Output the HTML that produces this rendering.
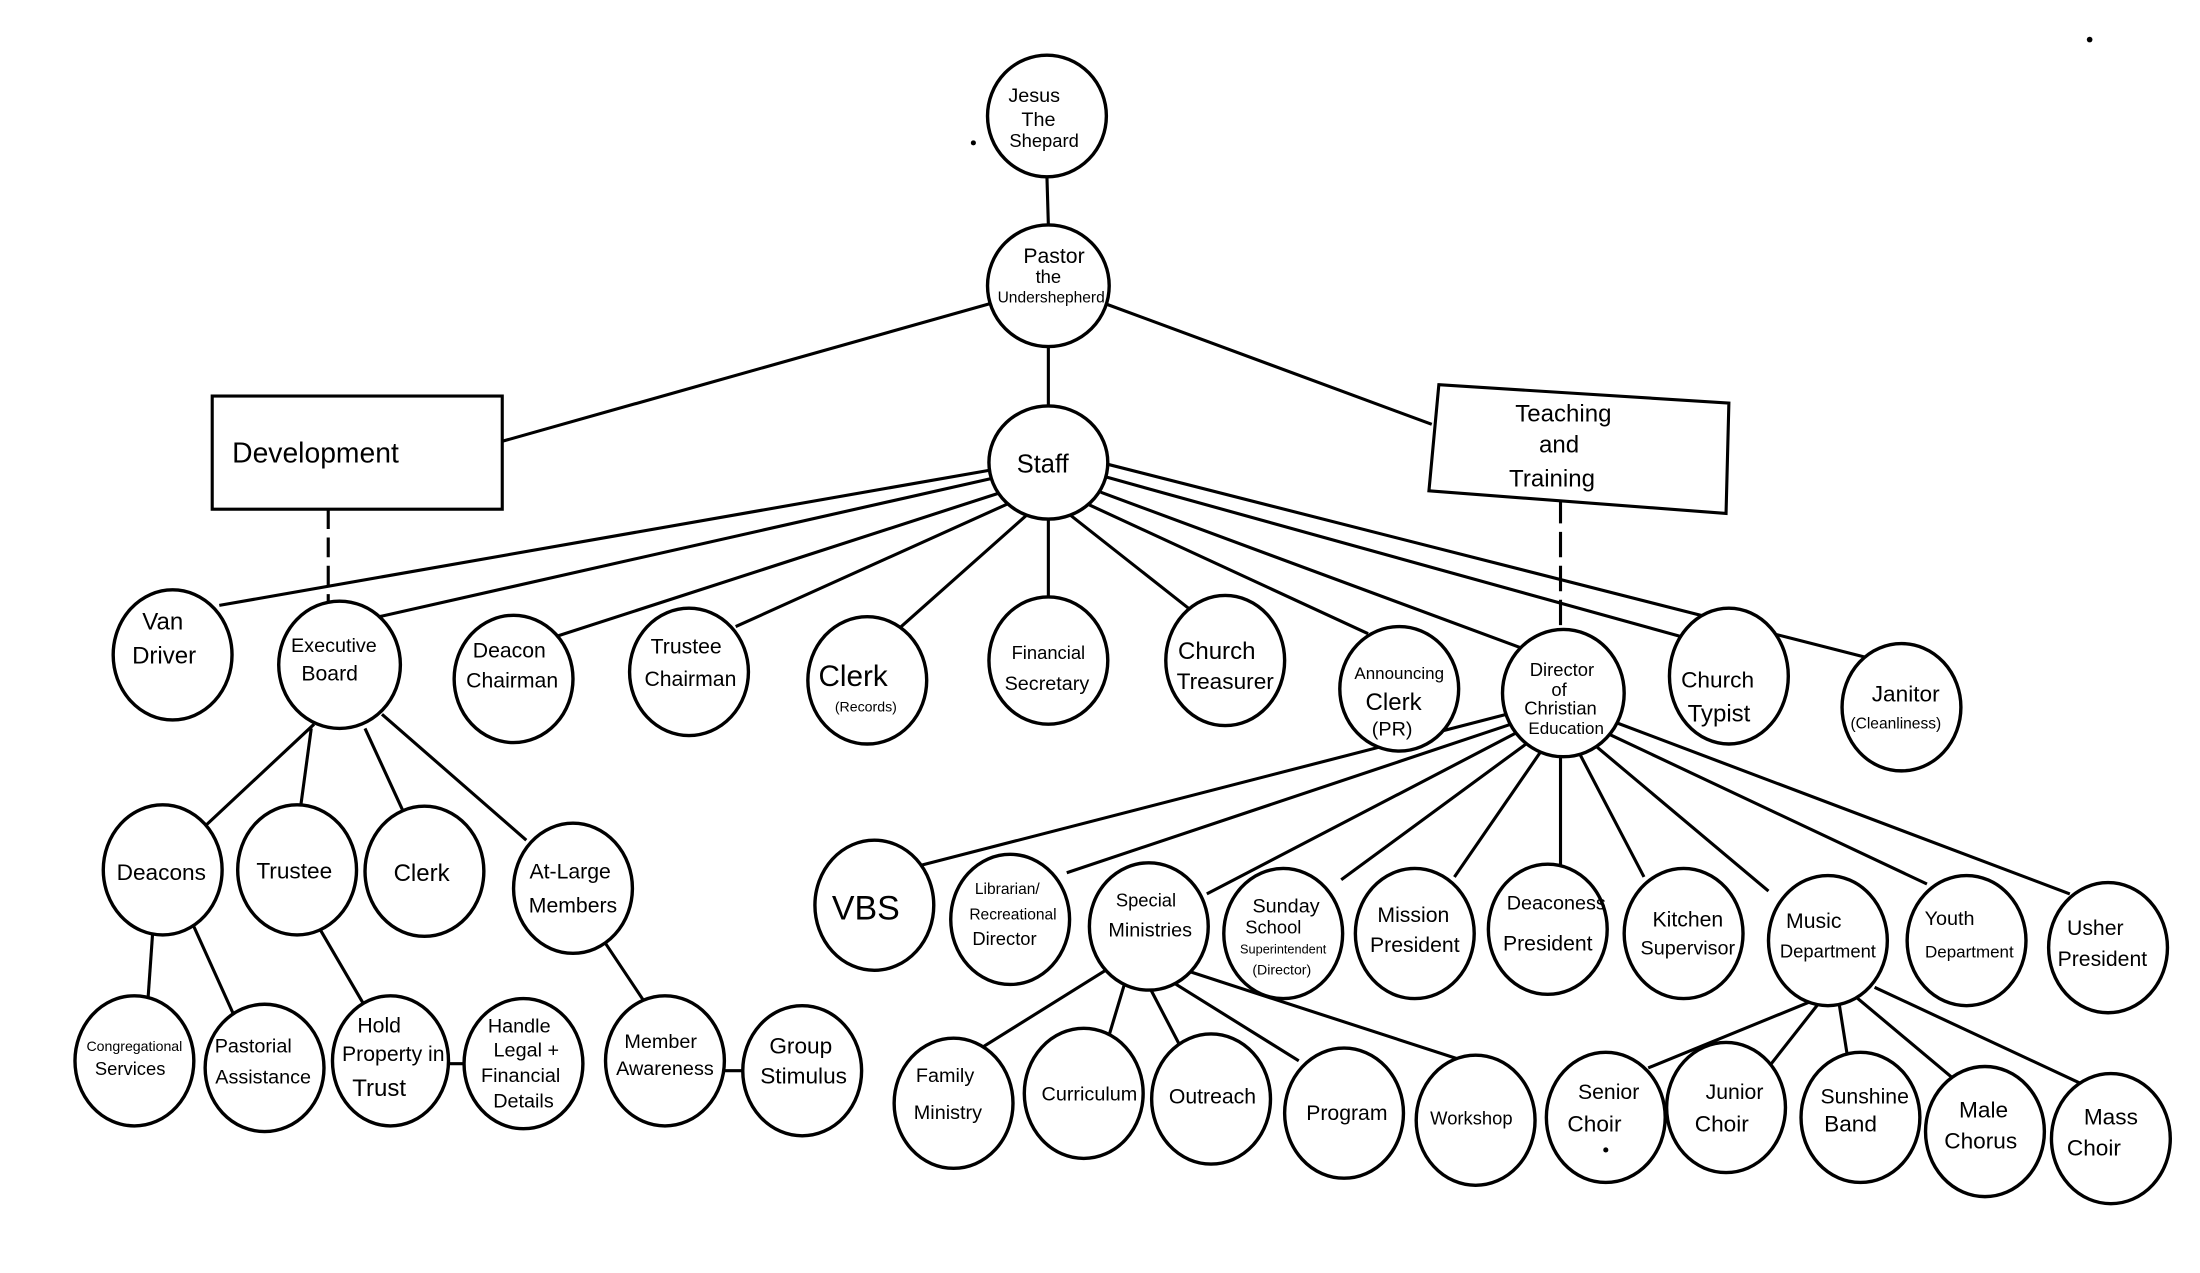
<!DOCTYPE html>
<html><head><meta charset="utf-8"><style>
html,body{margin:0;padding:0;background:#fff;}
svg{display:block;}
text{font-family:"Liberation Sans Narrow","Liberation Sans",sans-serif;font-size:15px;fill:#000;text-anchor:middle;}
</style></head><body>
<svg width="2200" height="1273" viewBox="0 0 1555 900" preserveAspectRatio="none" xmlns="http://www.w3.org/2000/svg">
<g stroke="#000" stroke-width="2.2" fill="none">
<!-- top -->
<line x1="740" y1="125" x2="741" y2="159"/>
<line x1="741" y1="245" x2="741" y2="287"/>
<line x1="355" y1="312" x2="702" y2="214"/>
<line x1="782" y1="215" x2="1012" y2="300"/>
<line x1="232" y1="360" x2="232" y2="425" stroke-dasharray="14,6"/>
<line x1="1103" y1="352" x2="1103" y2="450" stroke-dasharray="18,6"/>
<!-- staff to row1 -->
<line x1="702" y1="332" x2="155" y2="428"/>
<line x1="702" y1="338" x2="268" y2="436"/>
<line x1="708" y1="348" x2="393" y2="450"/>
<line x1="715" y1="355" x2="520" y2="443"/>
<line x1="727" y1="363" x2="637" y2="443"/>
<line x1="741" y1="367" x2="741" y2="422"/>
<line x1="755" y1="363" x2="840" y2="430"/>
<line x1="770" y1="357" x2="967" y2="448"/>
<line x1="778" y1="348" x2="1075" y2="458"/>
<line x1="781" y1="337" x2="1188" y2="450"/>
<line x1="782" y1="328" x2="1320" y2="465"/>
<!-- exec board children -->
<line x1="222" y1="512" x2="145" y2="584"/>
<line x1="220" y1="515" x2="212" y2="574"/>
<line x1="258" y1="515" x2="287" y2="578"/>
<line x1="270" y1="505" x2="372" y2="594"/>
<line x1="108" y1="658" x2="104" y2="715"/>
<line x1="137" y1="655" x2="165" y2="717"/>
<line x1="225" y1="655" x2="260" y2="715"/>
<line x1="428" y1="667" x2="460" y2="715"/>
<line x1="512" y1="757" x2="527" y2="757"/>
<line x1="315" y1="752" x2="328" y2="752"/>
<!-- director children -->
<line x1="1065" y1="505" x2="650" y2="612"/>
<line x1="1068" y1="512" x2="754" y2="617"/>
<line x1="1072" y1="518" x2="853" y2="632"/>
<line x1="1080" y1="525" x2="948" y2="622"/>
<line x1="1090" y1="530" x2="1028" y2="620"/>
<line x1="1103" y1="533" x2="1103" y2="615"/>
<line x1="1115" y1="530" x2="1162" y2="620"/>
<line x1="1125" y1="525" x2="1250" y2="630"/>
<line x1="1135" y1="518" x2="1362" y2="625"/>
<line x1="1140" y1="510" x2="1463" y2="632"/>
<!-- special ministries children -->
<line x1="783" y1="685" x2="695" y2="740"/>
<line x1="795" y1="695" x2="783" y2="735"/>
<line x1="812" y1="697" x2="837" y2="745"/>
<line x1="825" y1="692" x2="918" y2="750"/>
<line x1="835" y1="685" x2="1050" y2="755"/>
<!-- music children -->
<line x1="1280" y1="708" x2="1165" y2="755"/>
<line x1="1285" y1="710" x2="1252" y2="752"/>
<line x1="1300" y1="710" x2="1306" y2="748"/>
<line x1="1312" y1="705" x2="1380" y2="762"/>
<line x1="1325" y1="698" x2="1475" y2="768"/>
</g>
<!-- boxes -->
<g stroke="#000" stroke-width="2.2" fill="#fff">
<rect x="150" y="280" width="205" height="80"/>
<polygon points="1017,272 1222,285 1220,363 1010,347"/>
</g>
<text x="223" y="327" style="font-size:20px">Development</text>
<text x="1105" y="298" style="font-size:17px">Teaching</text>
<text x="1102" y="320" style="font-size:17px">and</text>
<text x="1097" y="344" style="font-size:17px">Training</text>
<!-- nodes -->
<g stroke="#000" stroke-width="2.4" fill="#fff">
<ellipse cx="740" cy="82" rx="42" ry="43"/>
<ellipse cx="741" cy="202" rx="43" ry="43"/>
<ellipse cx="741" cy="327" rx="42" ry="40"/>
<ellipse cx="122" cy="463" rx="42" ry="46"/>
<ellipse cx="240" cy="470" rx="43" ry="45"/>
<ellipse cx="363" cy="480" rx="42" ry="45"/>
<ellipse cx="487" cy="475" rx="42" ry="45"/>
<ellipse cx="613" cy="481" rx="42" ry="45"/>
<ellipse cx="741" cy="467" rx="42" ry="45"/>
<ellipse cx="866" cy="467" rx="42" ry="46"/>
<ellipse cx="989" cy="487" rx="42" ry="44"/>
<ellipse cx="1105" cy="490" rx="43" ry="45"/>
<ellipse cx="1222" cy="478" rx="42" ry="48"/>
<ellipse cx="1344" cy="500" rx="42" ry="45"/>
<ellipse cx="115" cy="615" rx="42" ry="46"/>
<ellipse cx="210" cy="615" rx="42" ry="46"/>
<ellipse cx="300" cy="616" rx="42" ry="46"/>
<ellipse cx="405" cy="628" rx="42" ry="46"/>
<ellipse cx="95" cy="750" rx="42" ry="46"/>
<ellipse cx="187" cy="755" rx="42" ry="45"/>
<ellipse cx="276" cy="750" rx="41" ry="46"/>
<ellipse cx="370" cy="752" rx="42" ry="46"/>
<ellipse cx="470" cy="750" rx="42" ry="46"/>
<ellipse cx="567" cy="757" rx="42" ry="46"/>
<ellipse cx="618" cy="640" rx="42" ry="46"/>
<ellipse cx="714" cy="650" rx="42" ry="46"/>
<ellipse cx="812" cy="655" rx="42" ry="45"/>
<ellipse cx="907" cy="660" rx="42" ry="46"/>
<ellipse cx="1000" cy="660" rx="42" ry="46"/>
<ellipse cx="1094" cy="657" rx="42" ry="46"/>
<ellipse cx="1190" cy="660" rx="42" ry="46"/>
<ellipse cx="1292" cy="665" rx="42" ry="46"/>
<ellipse cx="1390" cy="665" rx="42" ry="46"/>
<ellipse cx="1490" cy="670" rx="42" ry="46"/>
<ellipse cx="674" cy="780" rx="42" ry="46"/>
<ellipse cx="766" cy="773" rx="42" ry="46"/>
<ellipse cx="856" cy="777" rx="42" ry="46"/>
<ellipse cx="950" cy="787" rx="42" ry="46"/>
<ellipse cx="1043" cy="792" rx="42" ry="46"/>
<ellipse cx="1135" cy="790" rx="42" ry="46"/>
<ellipse cx="1220" cy="783" rx="42" ry="46"/>
<ellipse cx="1315" cy="790" rx="42" ry="46"/>
<ellipse cx="1403" cy="800" rx="42" ry="46"/>
<ellipse cx="1492" cy="805" rx="42" ry="46"/>
</g>
<g>
<text x="731" y="72" style="font-size:14px">Jesus</text>
<text x="734" y="89" style="font-size:14px">The</text>
<text x="738" y="104" style="font-size:13px">Shepard</text>
<text x="745" y="186" style="font-size:15px">Pastor</text>
<text x="741" y="200" style="font-size:13px">the</text>
<text x="743" y="214" style="font-size:11px">Undershepherd</text>
<text x="737" y="334" style="font-size:18px">Staff</text>
<text x="115" y="445" style="font-size:17px">Van</text>
<text x="116" y="469" style="font-size:17px">Driver</text>
<text x="236" y="461" style="font-size:14px">Executive</text>
<text x="233" y="481" style="font-size:15px">Board</text>
<text x="360" y="465" style="font-size:15px">Deacon</text>
<text x="362" y="486" style="font-size:15px">Chairman</text>
<text x="485" y="462" style="font-size:15px">Trustee</text>
<text x="488" y="485" style="font-size:15px">Chairman</text>
<text x="603" y="485" style="font-size:21px">Clerk</text>
<text x="612" y="503" style="font-size:10px">(Records)</text>
<text x="741" y="466" style="font-size:13px">Financial</text>
<text x="740" y="488" style="font-size:14px">Secretary</text>
<text x="860" y="466" style="font-size:17px">Church</text>
<text x="866" y="487" style="font-size:16px">Treasurer</text>
<text x="989" y="480" style="font-size:12px">Announcing</text>
<text x="985" y="502" style="font-size:17px">Clerk</text>
<text x="984" y="520" style="font-size:14px">(PR)</text>
<text x="1104" y="478" style="font-size:13px">Director</text>
<text x="1102" y="492" style="font-size:13px">of</text>
<text x="1103" y="505" style="font-size:13px">Christian</text>
<text x="1107" y="519" style="font-size:12px">Education</text>
<text x="1214" y="486" style="font-size:16px">Church</text>
<text x="1215" y="510" style="font-size:17px">Typist</text>
<text x="1347" y="496" style="font-size:16px">Janitor</text>
<text x="1340" y="515" style="font-size:11px">(Cleanliness)</text>
<text x="114" y="622" style="font-size:16px">Deacons</text>
<text x="208" y="621" style="font-size:16px">Trustee</text>
<text x="298" y="623" style="font-size:17px">Clerk</text>
<text x="403" y="621" style="font-size:15px">At-Large</text>
<text x="405" y="645" style="font-size:15px">Members</text>
<text x="95" y="743" style="font-size:10px">Congregational</text>
<text x="92" y="760" style="font-size:13px">Services</text>
<text x="179" y="744" style="font-size:14px">Pastorial</text>
<text x="186" y="766" style="font-size:14px">Assistance</text>
<text x="268" y="730" style="font-size:15px">Hold</text>
<text x="278" y="750" style="font-size:15px">Property in</text>
<text x="268" y="775" style="font-size:17px">Trust</text>
<text x="367" y="730" style="font-size:14px">Handle</text>
<text x="372" y="747" style="font-size:14px">Legal +</text>
<text x="368" y="765" style="font-size:14px">Financial</text>
<text x="370" y="783" style="font-size:14px">Details</text>
<text x="467" y="741" style="font-size:14px">Member</text>
<text x="470" y="760" style="font-size:14px">Awareness</text>
<text x="566" y="745" style="font-size:16px">Group</text>
<text x="568" y="766" style="font-size:16px">Stimulus</text>
<text x="612" y="650" style="font-size:24px">VBS</text>
<text x="712" y="632" style="font-size:11px">Librarian/</text>
<text x="716" y="650" style="font-size:11px">Recreational</text>
<text x="710" y="668" style="font-size:13px">Director</text>
<text x="810" y="641" style="font-size:13px">Special</text>
<text x="813" y="662" style="font-size:14px">Ministries</text>
<text x="909" y="645" style="font-size:14px">Sunday</text>
<text x="900" y="660" style="font-size:13px">School</text>
<text x="907" y="674" style="font-size:9px">Superintendent</text>
<text x="906" y="689" style="font-size:10px">(Director)</text>
<text x="999" y="652" style="font-size:15px">Mission</text>
<text x="1000" y="673" style="font-size:15px">President</text>
<text x="1100" y="643" style="font-size:14px">Deaconess</text>
<text x="1094" y="672" style="font-size:15px">President</text>
<text x="1193" y="655" style="font-size:15px">Kitchen</text>
<text x="1193" y="675" style="font-size:14px">Supervisor</text>
<text x="1282" y="656" style="font-size:15px">Music</text>
<text x="1292" y="677" style="font-size:13px">Department</text>
<text x="1378" y="654" style="font-size:14px">Youth</text>
<text x="1392" y="677" style="font-size:12px">Department</text>
<text x="1481" y="661" style="font-size:15px">Usher</text>
<text x="1486" y="683" style="font-size:15px">President</text>
<text x="668" y="765" style="font-size:14px">Family</text>
<text x="670" y="791" style="font-size:14px">Ministry</text>
<text x="770" y="778" style="font-size:14px">Curriculum</text>
<text x="857" y="780" style="font-size:15px">Outreach</text>
<text x="952" y="792" style="font-size:15px">Program</text>
<text x="1040" y="795" style="font-size:13px">Workshop</text>
<text x="1137" y="777" style="font-size:15px">Senior</text>
<text x="1127" y="800" style="font-size:16px">Choir</text>
<text x="1226" y="777" style="font-size:15px">Junior</text>
<text x="1217" y="800" style="font-size:16px">Choir</text>
<text x="1318" y="780" style="font-size:15px">Sunshine</text>
<text x="1308" y="800" style="font-size:16px">Band</text>
<text x="1402" y="790" style="font-size:16px">Male</text>
<text x="1400" y="812" style="font-size:16px">Chorus</text>
<text x="1492" y="795" style="font-size:16px">Mass</text>
<text x="1480" y="817" style="font-size:16px">Choir</text>
</g>
<circle cx="1477" cy="28" r="2" fill="#000"/>
<circle cx="688" cy="101" r="1.8" fill="#000"/>
<circle cx="1135" cy="813" r="1.8" fill="#000"/>
</svg>
</body></html>
